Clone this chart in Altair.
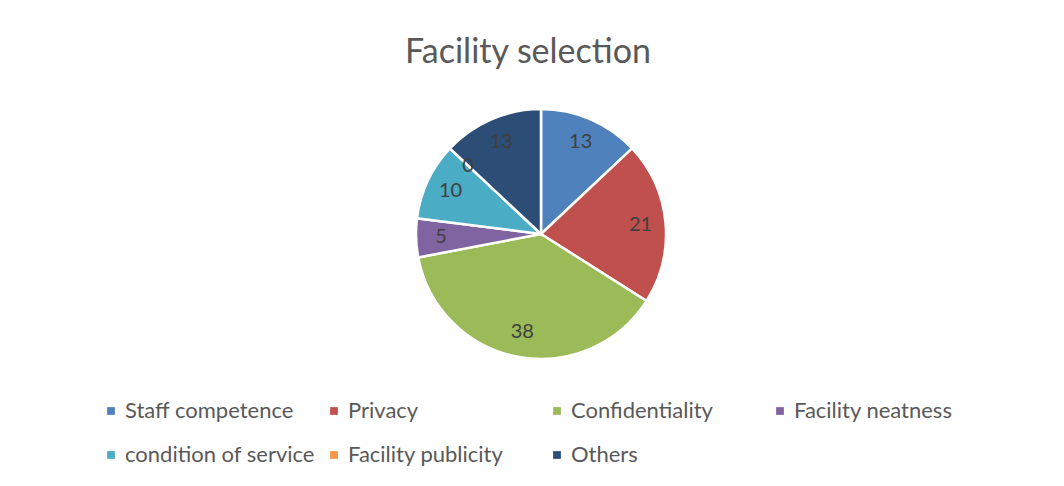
import altair as alt
import pandas as pd

categories = ["Staff competence", "Privacy", "Confidentiality", "Facility neatness",
              "condition of service", "Facility publicity", "Others"]
values = [13, 21, 38, 5, 10, 0, 13]
colors = ["#4F81BD", "#C0504D", "#9BBB59", "#8064A2", "#4BACC6", "#F79646", "#2C4D75"]

df = pd.DataFrame({"category": categories, "value": values, "order": list(range(len(values)))})

FONT = "Lato"
CX, CY = 533, 154  # pie centre inside plot area

base = alt.Chart(df).encode(
    theta=alt.Theta("value:Q", stack=True),
    order=alt.Order("order:Q"),
)

pie = base.mark_arc(outerRadius=125, stroke="white", strokeWidth=2.5).encode(
    x=alt.value(CX), y=alt.value(CY),
    color=alt.Color(
        "category:N",
        sort=categories,
        scale=alt.Scale(domain=categories, range=colors),
        legend=alt.Legend(
            title=None, orient="none", legendX=92, legendY=320, direction="horizontal",
            columns=4, gridAlign="all", columnPadding=8, rowPadding=22,
            symbolType="square", symbolSize=60, symbolStrokeWidth=0,
            labelFont=FONT, labelFontSize=22, labelColor="#595959",
            labelOffset=3, labelLimit=300,
        ),
    ),
)

labels = base.mark_text(radius=100, font=FONT, fontSize=20, color="#404040").encode(
    x=alt.value(CX), y=alt.value(CY),
    text=alt.Text("value:Q"),
)

chart = (pie + labels).properties(
    width=1040, height=420,
    title=alt.TitleParams("Facility selection", font=FONT, fontSize=34, fontWeight="normal",
                          color="#595959", anchor="middle", offset=10),
    padding={"left": 0, "top": 28, "right": 0, "bottom": 0},
).configure_view(stroke=None)

chart.save("out.html", embed_options={"renderer": "svg", "actions": False})
